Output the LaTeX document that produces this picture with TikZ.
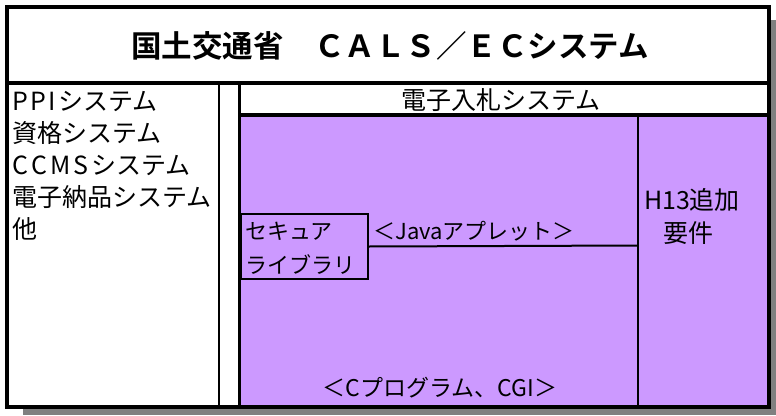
\documentclass[tikz,border=0pt]{standalone}
\usepackage{fontspec}
\newfontfamily\jp{Noto Sans CJK JP}
\newfontfamily\jpb{Noto Sans CJK JP Bold}
\definecolor{purp}{RGB}{204,153,255}
\definecolor{shadowgray}{RGB}{128,128,128}
\tikzset{
  thickln/.style={line width=3.2pt},
  thinln/.style={line width=2pt},
  txt/.style={inner sep=0pt, font=\jp\fontsize{25}{27}\selectfont},
  smalltxt/.style={inner sep=0pt, font=\jp\fontsize{22}{24}\selectfont},
  listtxt/.style={txt, anchor=west},
}
\begin{document}
\begin{tikzpicture}[x=1pt,y=-1pt]
\useasboundingbox (0,0) rectangle (776,415);
% shadow and frame
\fill[shadowgray] (23,20) rectangle (776,415);
\fill[white] (7,7) rectangle (769,407);
\fill[purp] (239,115) rectangle (769,407);
% title
\node[inner sep=0pt, font=\jpb\fontsize{30.5}{32}\selectfont] (title) at (390,46) {国土交通省　ＣＡＬＳ／ＥＣシステム};
% lines
\draw[thickln] (7,7) rectangle (769,407);
\draw[thickln] (7,83) -- (769,83);
\draw[thinln] (219,83) -- (219,407);
\draw[thickln] (239.5,83) -- (239.5,407);
\draw[thickln] (239.5,115) -- (769,115);
\draw[thinln] (638,115) -- (638,407);
% left list
\node[listtxt] (l1) at (12,101) {P\hspace{2.5pt}P\hspace{2.5pt}I\hspace{2pt}システム};
\node[listtxt] (l2) at (12,133) {資格システム};
\node[listtxt] (l3) at (12,165) {C\hspace{3pt}C\hspace{3pt}M\hspace{3pt}S\hspace{3pt}システム};
\node[listtxt] (l4) at (12,197) {電子納品システム};
\node[listtxt] (l5) at (12,229) {他};
% header
\node[txt] (hdr) at (501,100) {電子入札システム};
% security box
\node[draw, thinln, fill=purp, minimum width=127pt, minimum height=65pt, inner sep=0pt, anchor=north west] (sec) at (240,213) {};
\node[smalltxt, anchor=west] (sec1) at (245,231) {セキュア};
\node[smalltxt, anchor=west] (sec2) at (245,265) {ライブラリ};
% java line
\coordinate (jend) at (638,245.5);
\draw[thinln] (sec.east) -- (jend);
\node[smalltxt] (java) at (474,231) {＜Javaアプレット＞};
% right column
\node[txt] (h13) at (692,200) {H13追加};
\node[txt] (yoken) at (688,233) {要件};
% bottom
\node[smalltxt, font=\jp\fontsize{23}{25}\selectfont] (cprog) at (440,388) {＜Cプログラム、CGI＞};
\end{tikzpicture}
\end{document}
